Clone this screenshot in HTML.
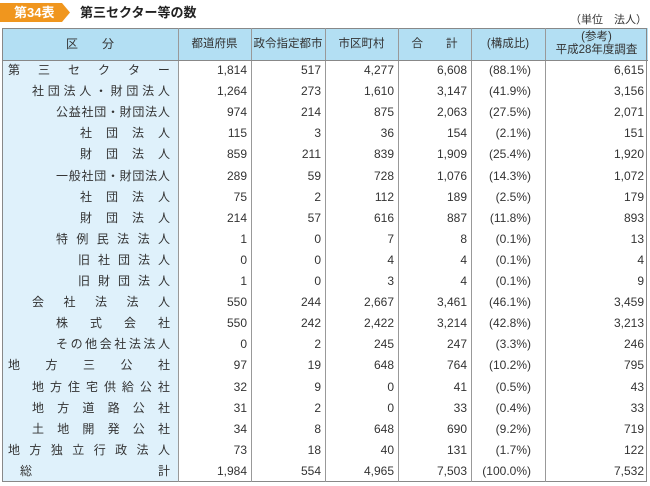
<!DOCTYPE html>
<html><head><meta charset="utf-8">
<style>
body{margin:0;width:650px;height:486px;background:#fff;font-family:"Liberation Sans","Noto Sans CJK JP",sans-serif;color:#333;position:relative;overflow:hidden}
.abs{position:absolute}
.badge{left:0;top:3px;width:70px;height:19px;background:#f0961e;color:#fff;font-size:13px;font-weight:bold;line-height:19px;clip-path:polygon(0 0,62px 0,70px 50%,62px 100%,0 100%)}
.badge span{margin-left:14px}
.title{left:80px;top:3px;font-size:13px;font-weight:bold;line-height:19px;color:#222}
.unit{right:3px;top:11px;font-size:11px}
.tbl{left:2px;top:28px;width:645px;height:454px;border:1px solid #888;box-sizing:border-box}
.cell{position:absolute;font-size:12px;box-sizing:border-box}
.lbl{display:flex;justify-content:space-between;font-size:12px;position:absolute}
</style></head><body>
<div class="abs badge"><span>第34表</span></div>
<div class="abs title">第三セクター等の数</div>
<div class="abs unit">（単位　法人）</div>
<div class="abs" style="left:2px;top:28px;width:646px;height:32px;background:#b3dff3"></div>
<div class="abs" style="left:2px;top:60px;width:176px;height:422px;background:#dff1fb"></div>
<div class="abs tbl"></div>
<div id="t"></div>
<script>
const labels=["第三セクター","社団法人・財団法人","公益社団・財団法人","社団法人","財団法人","一般社団・財団法人","社団法人","財団法人","特例民法法人","旧社団法人","旧財団法人","会社法法人","株式会社","その他会社法法人","地方三公社","地方住宅供給公社","地方道路公社","土地開発公社","地方独立行政法人","総計"];
const indents=[8,32,56,80,80,56,80,80,56,78,78,32,56,56,8,32,32,32,8,20];
const pref=["1,814","1,264","974","115","859","289","75","214","1","0","1","550","550","0","97","32","31","34","73","1,984"];
const desig=["517","273","214","3","211","59","2","57","0","0","0","244","242","2","19","9","2","8","18","554"];
const muni=["4,277","1,610","875","36","839","728","112","616","7","4","3","2,667","2,422","245","648","0","0","648","40","4,965"];
const total=["6,608","3,147","2,063","154","1,909","1,076","189","887","8","4","4","3,461","3,214","247","764","41","33","690","131","7,503"];
const ratio=["(88.1%)","(41.9%)","(27.5%)","(2.1%)","(25.4%)","(14.3%)","(2.5%)","(11.8%)","(0.1%)","(0.1%)","(0.1%)","(46.1%)","(42.8%)","(3.3%)","(10.2%)","(0.5%)","(0.4%)","(9.2%)","(1.7%)","(100.0%)"];
const ref=["6,615","3,156","2,071","151","1,920","1,072","179","893","13","4","9","3,459","3,213","246","795","43","33","719","122","7,532"];
const cols=[178,251,325,398,471,545,648];
const headers=["都道府県","政令指定都市","市区町村","合　　計","(構成比)","(参考)<br>平成28年度調査"];
const t=document.getElementById('t');
const top0=60,rh=21.1;
function mk(cls,css,html){const d=document.createElement('div');d.className=cls;d.style.cssText=css;d.innerHTML=html;t.appendChild(d);return d;}
for(let i=0;i<cols.length-1;i++){
 const v=mk('abs','left:'+cols[i]+'px;top:28px;width:1px;height:454px;background:#999','');
 
 
}
const hl=mk('abs','left:2px;top:60px;width:646px;height:1px;background:#888','');


const h0=mk('cell','left:2px;top:28px;width:176px;height:32px;line-height:32px;text-align:center','区　　分');


headers.forEach((h,i)=>{
 const multi=h.includes('<br>');
 const d=mk('cell','left:'+cols[i]+'px;top:28px;width:'+(cols[i+1]-cols[i])+'px;height:32px;font-size:11.5px;text-align:center;display:flex;align-items:center;justify-content:center;line-height:'+(multi?'13px':'32px'),h);
 
 
});
const series=[pref,desig,muni,total,ratio,ref];
labels.forEach((l,r)=>{
 const y=top0+r*rh;
 let chars=l==="総計"?["総","計"]:Array.from(l);
 const w=170-indents[r];
 const d=mk('lbl','left:'+indents[r]+'px;top:'+y+'px;width:'+w+'px;height:'+rh+'px;line-height:'+rh+'px',chars.map(c=>'<span>'+c+'</span>').join(''));
 
 
 series.forEach((s,i)=>{
  const pr=i===4?14:4;
  const c=mk('cell','left:'+cols[i]+'px;top:'+y+'px;width:'+(cols[i+1]-cols[i])+'px;height:'+rh+'px;line-height:'+rh+'px;text-align:right;padding-right:'+pr+'px',s[r]);
  
  
 });
});
</script>
</body></html>
